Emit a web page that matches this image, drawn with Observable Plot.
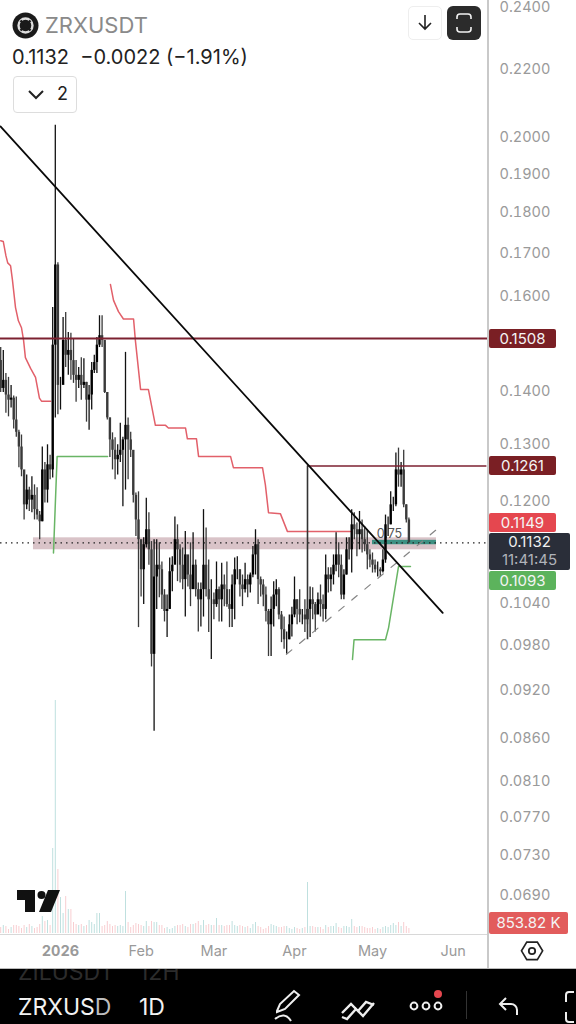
<!DOCTYPE html>
<html><head><meta charset="utf-8">
<script src="https://cdn.jsdelivr.net/npm/d3@7"></script>
<script src="https://cdn.jsdelivr.net/npm/@observablehq/plot@0.6"></script>
<style>
html,body{margin:0;padding:0;background:#fff;width:576px;height:1024px;overflow:hidden;font-family:Inter,"Noto Sans",sans-serif}
#root{position:relative;width:576px;height:1024px;overflow:hidden}
#root > svg{position:absolute;left:0;top:0}
.abs{position:absolute}
.tag{position:absolute;left:489px;width:67px;height:19px;line-height:19px;border-radius:2px;color:#f4f4f4;font-size:15px;text-align:center}
</style></head><body><div id="root"></div>
<script>
const firstOpen = 0.1462;
const high = [.1489,.1483,.1436,.1428,.1412,.1391,.1389,.1326,.1317,.1249,.1245,.1224,.1242,.1228,.1223,.1183,.1295,.1267,.1299,.1280,.1575,.2034,.1677,.1428,.1553,.1564,.1521,.1519,.1508,.1462,.1448,.1468,.1466,.1418,.1412,.1458,.1473,.1510,.1557,.1557,.1498,.1396,.1349,.1321,.1312,.1299,.1339,.1313,.1479,.1349,.1322,.1284,.1214,.1216,.1124,.1140,.1205,.1181,.1134,.1137,.1137,.1132,.1102,.1060,.1052,.1108,.1110,.1174,.1161,.1129,.1124,.1150,.1095,.1132,.1148,.1105,.1070,.1070,.1186,.1156,.1105,.1075,.1055,.1102,.1064,.1100,.1082,.1102,.1060,.1082,.1108,.1110,.1090,.1082,.1100,.1082,.1085,.1126,.1153,.1137,.1079,.1075,.1064,.1031,.1049,.1072,.1075,.1063,.1028,.1020,.0999,.1023,.1034,.1079,.1045,.1060,.1031,.1045,.1045,.1064,.1063,.1041,.1055,.1067,.1052,.1113,.1093,.1093,.1113,.1148,.1132,.1113,.1090,.1140,.1140,.1186,.1181,.1164,.1183,.1169,.1158,.1153,.1121,.1116,.1105,.1102,.1093,.1121,.1177,.1174,.1216,.1207,.1284,.1293,.1267,.1289,.1194,.1172];
const low = [.1398,.1398,.1358,.1351,.1368,.1328,.1313,.1258,.1242,.1169,.1186,.1183,.1181,.1169,.1169,.1137,.1166,.1197,.1197,.1237,.1240,.1349,.1355,.1364,.1422,.1448,.1432,.1422,.1416,.1379,.1406,.1383,.1406,.1341,.1326,.1364,.1436,.1436,.1489,.1489,.1396,.1345,.1276,.1254,.1237,.1245,.1267,.1191,.1219,.1237,.1276,.1197,.1142,.1005,.1049,.1038,.1124,.1097,.0951,.0869,.1031,.1048,.1031,.1013,.0991,.1031,.1057,.1100,.1072,.1070,.1060,.1020,.1064,.1035,.1064,.1049,.0999,.1006,.1020,.1049,.0998,.0961,.1016,.1034,.1013,.1013,.1035,.1034,.1005,.1005,.1016,.1075,.1049,.1035,.1055,.1048,.1055,.1078,.1082,.1038,.1049,.1035,.1013,.0965,.0965,.1006,.1035,.1016,.0984,.0975,.0968,.0988,.0992,.1019,.1009,.1012,.1009,.0998,.1009,.0991,.1016,.0999,.1034,.1020,.1013,.1016,.1055,.1057,.1067,.1087,.1078,.1045,.1045,.1082,.1105,.1085,.1137,.1110,.1121,.1116,.1118,.1090,.1093,.1085,.1085,.1079,.1079,.1085,.1100,.1142,.1161,.1183,.1191,.1224,.1224,.1189,.1164,.1132];
const close = [.1406,.1422,.1393,.1383,.1387,.1345,.1322,.1295,.1254,.1194,.1219,.1202,.1210,.1186,.1177,.1166,.1254,.1219,.1263,.1254,.1494,.1672,.1412,.1412,.1504,.1473,.1483,.1462,.1432,.1422,.1432,.1412,.1418,.1383,.1393,.1442,.1458,.1494,.1514,.1504,.1398,.1349,.1308,.1289,.1272,.1280,.1289,.1308,.1335,.1308,.1289,.1210,.1169,.1137,.1090,.1129,.1153,.1121,.0968,.1079,.1097,.1090,.1052,.1028,.1031,.1087,.1097,.1137,.1121,.1097,.1075,.1113,.1082,.1060,.1097,.1060,.1045,.1060,.1097,.1060,.1045,.1045,.1038,.1060,.1045,.1067,.1060,.1038,.1031,.1067,.1090,.1090,.1067,.1060,.1075,.1067,.1082,.1113,.1129,.1075,.1067,.1052,.1028,.1009,.1031,.1052,.1060,.1023,.1002,.0988,.0988,.1009,.1023,.1045,.1031,.1023,.1023,.1016,.1031,.1045,.1038,.1023,.1045,.1038,.1031,.1082,.1075,.1082,.1097,.1113,.1097,.1052,.1082,.1121,.1121,.1161,.1153,.1145,.1153,.1137,.1129,.1113,.1105,.1097,.1090,.1090,.1087,.1105,.1161,.1161,.1194,.1194,.1254,.1245,.1254,.1194,.1169,.1132];
const volumeK = [1020,1360,1190,680,1020,1360,1360,1190,850,1360,1020,1530,1190,850,1020,1530,2890,2040,2210,1360,14450,39610,10880,6120,3400,6290,4080,4080,1870,1530,1360,1530,1190,1360,2210,1870,1530,3400,3400,1190,1360,2040,1530,1190,1360,1190,1360,1190,7140,1870,1020,1360,1700,1530,1360,1190,2040,1190,2040,1870,1870,1360,1360,850,1020,680,850,1190,1360,1360,1530,1190,1020,1530,1530,1700,2040,1360,2210,1360,1530,1360,1360,2550,1360,1360,1190,1360,1360,2040,1360,1190,1360,1190,1020,1190,850,1530,1870,1190,1020,680,850,1190,1530,1360,1190,1020,1020,1190,1190,850,680,1020,850,680,850,1020,8670,1190,1190,1020,1020,1020,680,1360,1020,1190,1190,1700,1020,850,1190,1190,1020,2380,1190,1020,1190,1190,1020,850,850,1020,680,850,680,1020,1190,1020,1360,1700,1360,1870,1190,1870,1190,853.82];

const redA = {day:[0,1,2,2.7,3.8,4.5,5.7,6.8,8,8.8,9.5,11.5,13.4,14.9,15.7,19.2], price:[.1730,.1728,.1694,.1677,.1670,.1638,.1575,.1546,.1531,.1504,.1468,.1446,.1428,.1387,.1381,.1381]};
const redB = {day:[42.2,43.4,45.3,47.2,51.1,51.8,53.8,56.8,59.5,63.4,64.5,71.1,71.8,75.3,76.1,88.4,89.5,100.7,101.8,103,107.6,110.3,134.5], price:[.1627,.1591,.1566,.1550,.1550,.1504,.1404,.1404,.1335,.1335,.1330,.1330,.1310,.1310,.1278,.1278,.1258,.1258,.1228,.1181,.1179,.1150,.1150]};
const greenA = {day:[20.3,21.7,41.1], price:[.1116,.1278,.1278]};
const greenB = {day:[135.3,135.9,148,149.2,153,157.6], price:[.0961,.0988,.0988,.1005,.1095,.1095]};
const trend = {day:[-0.1,170], price:[.2031,.1026]};
const rising = {day:[109.9,168.4], price:[.0968,.1156]};
const yTicks = [.24,.22,.20,.19,.18,.17,.16,.14,.13,.12,.104,.098,.092,.086,.081,.077,.073,.069];
const monthLabels = ["2026","Feb","Mar","Apr","May","Jun"];
const monthDays = [23,54,82,113,143,174];

const T0 = Date.UTC(2025,11,9);
const D = d => new Date(T0 + d*864e5);
const candles = high.map((h,i)=>({date:D(i),high:h,low:low[i],close:close[i],open:i?close[i-1]:firstOpen,vol:volumeK[i]}));
const series = s => s.day.map((d,i)=>({date:D(d),price:s.price[i]}));
const xOpt = {type:"utc",domain:[D(0),D(187)],range:[0.2,486.4]};
const base = {width:576,height:968,marginLeft:0,marginRight:89,marginTop:0,marginBottom:34,style:{background:"transparent",overflow:"visible"}};

const vol = Plot.plot({...base,x:{...xOpt,axis:null},
  y:{domain:[0,39610],range:[933,700],axis:null},
  marks:[Plot.ruleX(candles,{x:"date",y1:0,y2:"vol",strokeWidth:1,stroke:d=>d.close>=d.open?"#bfe0df":"#f8ced1"})]});

const up = candles.filter(d=>d.close>=d.open), down = candles.filter(d=>d.close<d.open);
const plot = Plot.plot({...base,
  x:{...xOpt,axis:null},
  y:{type:"log",domain:[.24,.069],range:[7,895],axis:null},
  marks:[
    Plot.rect([0],{x1:()=>D(12.6),x2:()=>D(167.6),y1:()=>.1140,y2:()=>.1121,fill:"#d9c3c8"}),
    Plot.rect([0],{x1:()=>D(143),x2:()=>D(167.6),y1:()=>.1136,y2:()=>.1129,fill:"#3d9082"}),
    Plot.text(["0.75"],{x:()=>D(149.5),y:()=>.1146,fontSize:12.5,fill:"#555",fontFamily:"Inter",style:{letterSpacing:"1px"}}),
    Plot.line(series(redA),{x:"date",y:"price",stroke:"#e2606a",strokeWidth:1.5,curve:"linear"}),
    Plot.line(series(redB),{x:"date",y:"price",stroke:"#e2606a",strokeWidth:1.5,curve:"linear"}),
    Plot.line(series(greenA),{x:"date",y:"price",stroke:"#69b565",strokeWidth:1.5}),
    Plot.line(series(greenB),{x:"date",y:"price",stroke:"#69b565",strokeWidth:1.5}),
    Plot.ruleX(down,{x:"date",y1:"low",y2:"high",stroke:"#3a3a3a",strokeWidth:1.3}),
    Plot.ruleX(up,{x:"date",y1:"low",y2:"high",stroke:"#111",strokeWidth:1.3}),
    Plot.ruleX(down,{x:"date",y1:"open",y2:"close",stroke:"#3a3a3a",strokeWidth:2.4}),
    Plot.ruleX(up,{x:"date",y1:"open",y2:"close",stroke:"#000",strokeWidth:2.4}),
    Plot.ruleY([.1508],{stroke:"#7c2130",strokeWidth:2}),
    Plot.ruleY([.1261],{x1:()=>D(118),x2:()=>D(187),stroke:"#7c2130",strokeWidth:1.6}),
    Plot.ruleX([0],{x:()=>D(118),y1:()=>.0988,y2:()=>.1261,stroke:"#333",strokeWidth:1.6}),
    Plot.ruleY([.1132],{stroke:"#222",strokeWidth:1.2,strokeDasharray:"1.5,4"}),
    Plot.line(series(rising),{x:"date",y:"price",stroke:"#858585",strokeWidth:1.2,strokeDasharray:"7,10"}),
    Plot.line(series(trend),{x:"date",y:"price",stroke:"#0a0a0a",strokeWidth:1.8}),
    Plot.axisY({anchor:"right",ticks:yTicks,tickFormat:d3.format(".4f"),tickSize:0,tickPadding:12,fontSize:14.5,fill:"#9a9a9a",label:null,fontFamily:"Inter"}),
    Plot.axisX({anchor:"bottom",ticks:monthDays.map(D),tickFormat:(d,i)=>monthLabels[i],tickSize:0,tickPadding:11,fontSize:14.5,fill:"#9a9a9a",label:null,fontFamily:"Inter"})
  ]});
d3.select(plot).selectAll("text").filter(function(){return this.textContent==="2026"}).style("font-weight","700");

const root = document.getElementById("root");
root.append(vol);
root.append(plot);
const y = plot.scale("y");
const tag = (txt,bg,top)=>{const e=document.createElement("div");e.className="tag";e.textContent=txt;e.style.background=bg;e.style.top=top+"px";root.append(e);return e;};
tag("0.1508","#7a1f24",y.apply(.1508)-9.5);
tag("0.1261","#7a1f24",y.apply(.1261)-9.5);
tag("0.1149","#e5474f",513);
tag("0.1093","#5cb35c",571);
const v = tag("853.82 K","#e25c5c",912); v.style.width="79px"; v.style.height="22px"; v.style.lineHeight="22px";
const chrome = document.createElement("div");
chrome.innerHTML = `
<div class="abs" style="left:487px;top:0;width:1.5px;height:968px;background:#c9c9c9"></div>
<div class="abs" style="left:0;top:934px;width:487px;height:1px;background:#d8d8d8"></div>
<div class="abs" style="left:489px;top:533px;width:81px;height:37px;background:#2a2e39;border-radius:2px;color:#f0f0f0;font-size:15px;text-align:center;line-height:18px"><div>0.1132</div><div style="color:#b0b3ba">11:41:45</div></div>
<svg class="abs" style="left:12px;top:12px" width="28" height="28" viewBox="0 0 28 28"><circle cx="13.5" cy="13.5" r="13" fill="#1a1a1a"/><circle cx="13.5" cy="13.5" r="7" fill="none" stroke="#ddd" stroke-width="2.4"/><path d="M8.5 8.5l10 10M18.5 8.5l-10 10" stroke="#1a1a1a" stroke-width="2.4"/></svg>
<div class="abs" style="left:45px;top:12px;font-size:22px;line-height:26px;color:#8a8a8a">ZRXUSDT</div>
<div class="abs" style="left:12px;top:45px;font-size:20px;line-height:24px;color:#222;white-space:pre">0.1132  −0.0022 (−1.91%)</div>
<div class="abs" style="left:13px;top:76px;width:62px;height:35px;border:1px solid #ddd;border-radius:4px"></div>
<svg class="abs" style="left:27px;top:88px" width="20" height="14"><path d="M2 3l7 7 7-7" fill="none" stroke="#222" stroke-width="2"/></svg>
<div class="abs" style="left:57px;top:83px;font-size:18px;line-height:22px;color:#222">2</div>
<div class="abs" style="left:408px;top:6px;width:32px;height:32px;border:1px solid #eee;border-radius:5px"></div>
<svg class="abs" style="left:415px;top:13px" width="20" height="20"><path d="M10 2v14M4 10l6 6 6-6" fill="none" stroke="#222" stroke-width="1.6"/></svg>
<div class="abs" style="left:447px;top:6px;width:34px;height:34px;background:#2b2b2b;border-radius:6px"></div>
<svg class="abs" style="left:447px;top:6px" width="34" height="34"><path d="M10 13v-2a3 3 0 0 1 3-3h8a3 3 0 0 1 3 3v2M10 21v2a3 3 0 0 0 3 3h8a3 3 0 0 0 3-3v-2" fill="none" stroke="#f2f2f2" stroke-width="1.6"/></svg>
<svg class="abs" style="left:17px;top:890px" width="44" height="23"><path d="M0 0h18v22h-10v-12h-8z" fill="#111"/><circle cx="24.5" cy="5" r="4" fill="#111"/><path d="M31 0h12l-9 22h-12z" fill="#111"/></svg>
<svg class="abs" style="left:520px;top:939px" width="24" height="24"><path d="M6 2h12l6 10-6 10H6L0 12z" transform="translate(1.5 1.3) scale(.88)" fill="none" stroke="#222" stroke-width="1.9"/><circle cx="12" cy="12" r="3.2" fill="none" stroke="#222" stroke-width="1.8"/></svg>
<div class="abs" style="left:0;top:968px;width:576px;height:1px;background:#bbb"></div>
<div class="abs" style="left:0;top:969px;width:576px;height:55px;background:#000;overflow:hidden;color:#fff">
  <div class="abs" style="left:18px;top:-10px;font-size:23px;line-height:26px;color:#2c2c2c">ZILUSDT</div>
  <div class="abs" style="left:139px;top:-10px;font-size:23px;line-height:26px;color:#2c2c2c">12H</div>
  <div class="abs" style="left:18px;top:24px;font-size:23px;line-height:28px;color:#f2f2f2">ZRXUS<span style="color:#bdbdbd">D</span></div>
  <div class="abs" style="left:139px;top:24px;font-size:23px;line-height:28px;color:#f2f2f2">1D</div>
  <svg class="abs" style="left:272px;top:20px" width="36" height="35"><path d="M5 22l3-7 14-13 5 4-14 14-8 3zM3 30c6-5 12-5 16 2" fill="none" stroke="#eee" stroke-width="2"/></svg>
  <svg class="abs" style="left:340px;top:22px" width="36" height="32"><path d="M2 22l9-9 7 7 8-9 8 3M2 26l5 2 9-10 7 7 11-13" fill="none" stroke="#eee" stroke-width="2.4"/></svg>
  <svg class="abs" style="left:408px;top:18px" width="52" height="28"><circle cx="6" cy="19" r="3.4" fill="none" stroke="#eee" stroke-width="2"/><circle cx="18" cy="19" r="3.4" fill="none" stroke="#eee" stroke-width="2"/><circle cx="30" cy="19" r="3.4" fill="none" stroke="#eee" stroke-width="2"/><circle cx="30" cy="7" r="4" fill="#e5474f"/></svg>
  <div class="abs" style="left:466px;top:22px;width:1px;height:28px;background:#333"></div>
  <svg class="abs" style="left:497px;top:26px" width="24" height="22"><path d="M9 3L3 9l6 6M3 9h11a6 6 0 0 1 6 6v5" fill="none" stroke="#eee" stroke-width="2"/></svg>
  <svg class="abs" style="left:560px;top:22px" width="16" height="32"><path d="M14 1h-5a3 3 0 0 0-3 3v7M14 31h-5a3 3 0 0 1-3-3v-7" fill="none" stroke="#eee" stroke-width="2"/></svg>
</div>`;
root.append(chrome);
</script></body></html>
